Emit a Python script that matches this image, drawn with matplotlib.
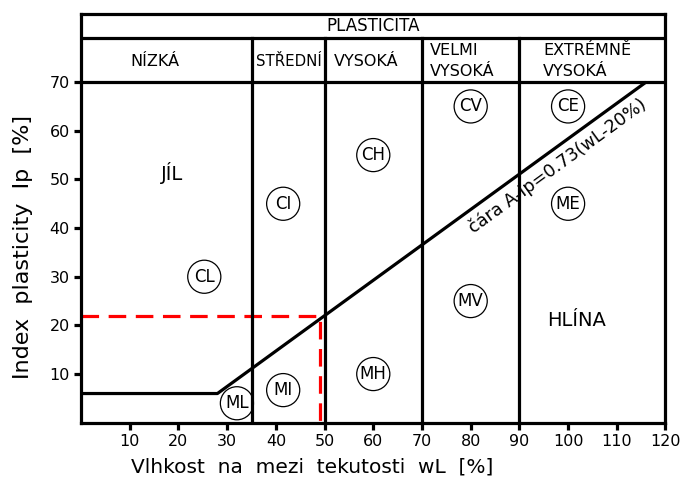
import matplotlib
matplotlib.use('Agg')
import matplotlib.pyplot as plt
from matplotlib.patches import Circle

# Data
x_ticks = [10, 20, 30, 40, 50, 60, 70, 80, 90, 100, 110, 120]
y_ticks = [10, 20, 30, 40, 50, 60, 70]
zone_bounds = [35, 50, 70, 90]
aline_x = [0, 28, 116]
aline_y = [6, 6, 70]
marker_wl = 49
marker_ip = 22
soil_names = ['ML', 'MI', 'MH', 'MV', 'ME', 'CL', 'CI', 'CH', 'CV', 'CE']
soil_wl = [32, 41.5, 60, 80, 100, 25.3, 41.5, 60, 80, 100]
soil_ip = [4, 6.7, 10, 25, 45, 30, 45, 55, 65, 65]
zone_names = ['NÍZKÁ', 'STŘEDNÍ', 'VYSOKÁ', 'VELMI\nVYSOKÁ', 'EXTRÉMNĚ\nVYSOKÁ']
zone_x = [15.2, 42.6, 58.5, 71.7, 94.9]
zone_ha = ['center', 'center', 'center', 'left', 'left']
zone_fs = [11.5, 10.8, 11.5, 11.5, 11.5]

fig = plt.figure(figsize=(6.87, 4.79), dpi=100)
ax = fig.add_axes([0.118, 0.1175, 0.8507, 0.8533])
ax.set_xlim(0, 120)
ax.set_ylim(0, 84)

lw = 2.3
# header rows and zone borders
ax.axhline(70, color='black', lw=lw, zorder=3)
ax.axhline(79, color='black', lw=lw, zorder=3)
for xb in zone_bounds:
    ax.plot([xb, xb], [0, 79], color='black', lw=lw, zorder=3)

# A-line
ax.plot(aline_x, aline_y, color='black', lw=lw, solid_capstyle='butt', zorder=2)

# red dashed marker
ax.plot([0, marker_wl, marker_wl], [marker_ip, marker_ip, 0], color='red',
        lw=2.3, ls=(0, (5.5, 3)), zorder=2)

# soil circles
for name, wl, ip in zip(soil_names, soil_wl, soil_ip):
    ax.add_patch(Circle((wl, ip), 3.4, facecolor='white', edgecolor='black',
                        lw=0.9, zorder=2.5))
    ax.text(wl, ip, name, ha='center', va='center', fontsize=12, zorder=4)

ax.text(18.7, 51.3, 'JÍL', ha='center', va='center', fontsize=14)
ax.text(101.8, 21, 'HLÍNA', ha='center', va='center', fontsize=14)
ax.text(97.8, 52.8, 'čára A-Ip=0.73(wL-20%)', ha='center', va='center',
        fontsize=12.7, rotation=36.1, rotation_mode='anchor')

# header texts
ax.text(60, 81.6, 'PLASTICITA', ha='center', va='center', fontsize=12)
for name, zx, ha, fs in zip(zone_names, zone_x, zone_ha, zone_fs):
    ax.text(zx, 74.3, name, ha=ha, va='center', fontsize=fs, linespacing=1.55)

for sp in ax.spines.values():
    sp.set_linewidth(lw)
    sp.set_zorder(5)
ax.set_xticks(x_ticks)
ax.set_yticks(y_ticks)
ax.tick_params(direction='out', length=5, width=2.3, labelsize=11.5, pad=3)
ax.set_xlabel('Vlhkost  na  mezi  tekutosti  wL  [%]', fontsize=14.5)
ax.set_ylabel('Index  plasticity  Ip  [%]', fontsize=16)
ax.xaxis.set_label_coords(0.395, -0.086)
ax.yaxis.set_label_coords(-0.083, 0.43)

fig.savefig('out.png', dpi=100)
